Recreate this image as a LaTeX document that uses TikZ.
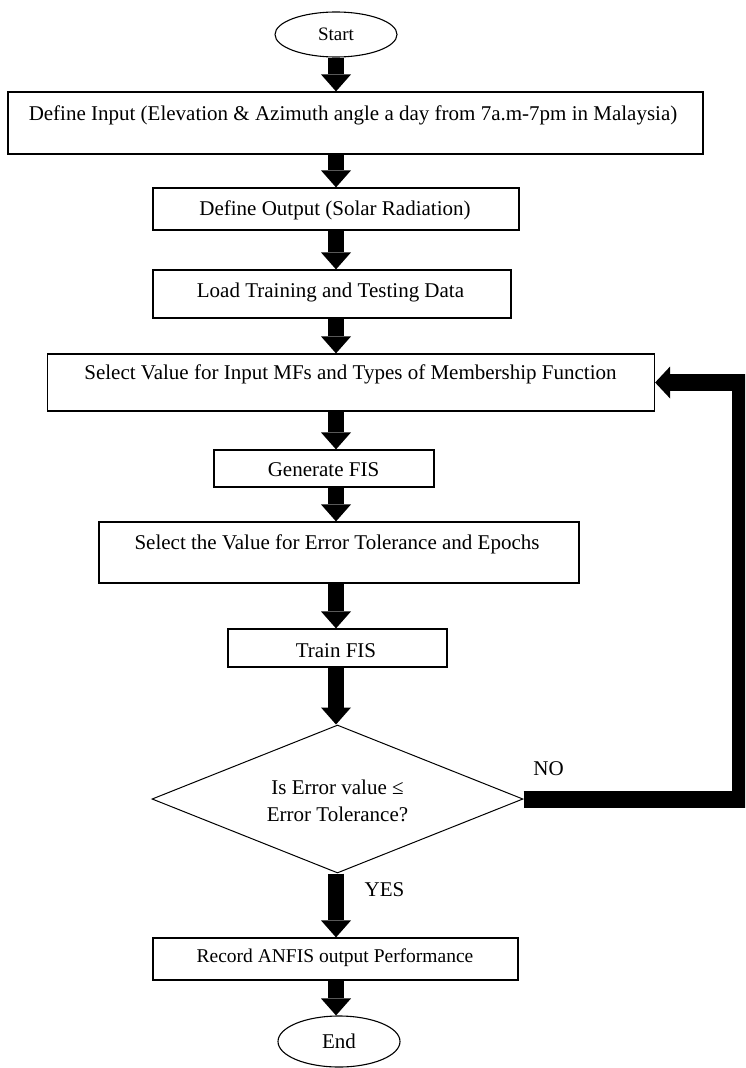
\documentclass[tikz,border=0pt]{standalone}
\usepackage{fontspec}
\setmainfont{Liberation Serif}
\usetikzlibrary{arrows.meta,shapes.geometric}
\begin{document}
\begin{tikzpicture}[x=1pt,y=-1pt,
  box/.style={draw,line width=1.2pt,rectangle,inner sep=0pt},
  term/.style={draw,line width=1.1pt,ellipse,inner sep=0pt},
  decision/.style={draw,line width=1pt,diamond,inner sep=0pt},
  lbl/.style={inner sep=0pt,align=center,font=\fontsize{21}{27}\selectfont},
  flow/.style={line width=16pt,-{Triangle[length=17pt,width=30pt,line width=0pt]}},
  loopback/.style={line width=17pt,-{Triangle[length=15pt,width=32pt,line width=0pt]}}]
\useasboundingbox (0,0) rectangle (745,1068);
\clip (0,0) rectangle (745,1068);

% spine of the flow and the return path
\coordinate (ax) at (336,0);
\coordinate (rx) at (740,0);

% terminals
\node[term,minimum width=122pt,minimum height=45pt,font=\fontsize{19}{22}\selectfont] (start) at (336,34.5) {Start};
\node[term,minimum width=122pt,minimum height=51pt,font=\fontsize{21}{24}\selectfont] (end) at (339,1041.5) {End};

% process boxes
\node[box,minimum width=695pt,minimum height=62pt] (b1) at (355.5,123) {};
\node[lbl] (t1) at (353,115) {Define Input (Elevation \& Azimuth angle a day from 7a.m-7pm in Malaysia)};

\node[box,minimum width=366pt,minimum height=42pt] (b2) at (336,209) {};
\node[lbl] (t2) at (335,210) {Define Output (Solar Radiation)};

\node[box,minimum width=358pt,minimum height=48pt] (b3) at (332,294) {};
\node[lbl] (t3) at (330.5,292) {Load Training and Testing Data};

\node[box,minimum width=607pt,minimum height=57pt] (b4) at (351,382.5) {};
\node[lbl] (t4) at (350.5,374) {Select Value for Input MFs and Types of Membership Function};

\node[box,minimum width=220pt,minimum height=37pt] (b5) at (324,468.5) {};
\node[lbl] (t5) at (323.5,470) {Generate FIS};

\node[box,minimum width=480pt,minimum height=61pt] (b6) at (339,552.5) {};
\node[lbl] (t6) at (337,544) {Select the Value for Error Tolerance and Epochs};

\node[box,minimum width=219pt,minimum height=38pt] (b7) at (337.5,648) {};
\node[lbl] (t7) at (336,651) {Train FIS};

\node[decision,minimum width=371pt,minimum height=148pt] (dia) at (337.5,799) {};
\node[lbl] (td) at (337.5,800.5) {Is Error value ≤\\Error Tolerance?};

\node[box,minimum width=365pt,minimum height=42pt] (b8) at (335.5,959) {};
\node[lbl,font=\fontsize{19.5}{24}\selectfont] (t8) at (335,958) {Record ANFIS output Performance};

% branch labels
\node[lbl] (no) at (548.5,769) {NO};
\node[lbl] (yes) at (384.5,890) {YES};

% main flow
\draw[flow] (start.south -| ax) -- (b1.north -| ax);
\draw[flow] (b1.south -| ax) -- (b2.north -| ax);
\draw[flow] (b2.south -| ax) -- (b3.north -| ax);
\draw[flow] (b3.south -| ax) -- (b4.north -| ax);
\draw[flow] (b4.south -| ax) -- (b5.north -| ax);
\draw[flow] (b5.south -| ax) -- (b6.north -| ax);
\draw[flow] (b6.south -| ax) -- (b7.north -| ax);
\draw[flow] (b7.south -| ax) -- (dia.north -| ax);
\draw[flow] (dia.south -| ax) -- (b8.north -| ax);
\draw[flow] (b8.south -| ax) -- (end.north -| ax);

% return path when the error is too large
\draw[loopback] (dia.east) -- (dia.east -| rx) -- (b4.east -| rx) -- (b4.east);
\end{tikzpicture}
\end{document}
